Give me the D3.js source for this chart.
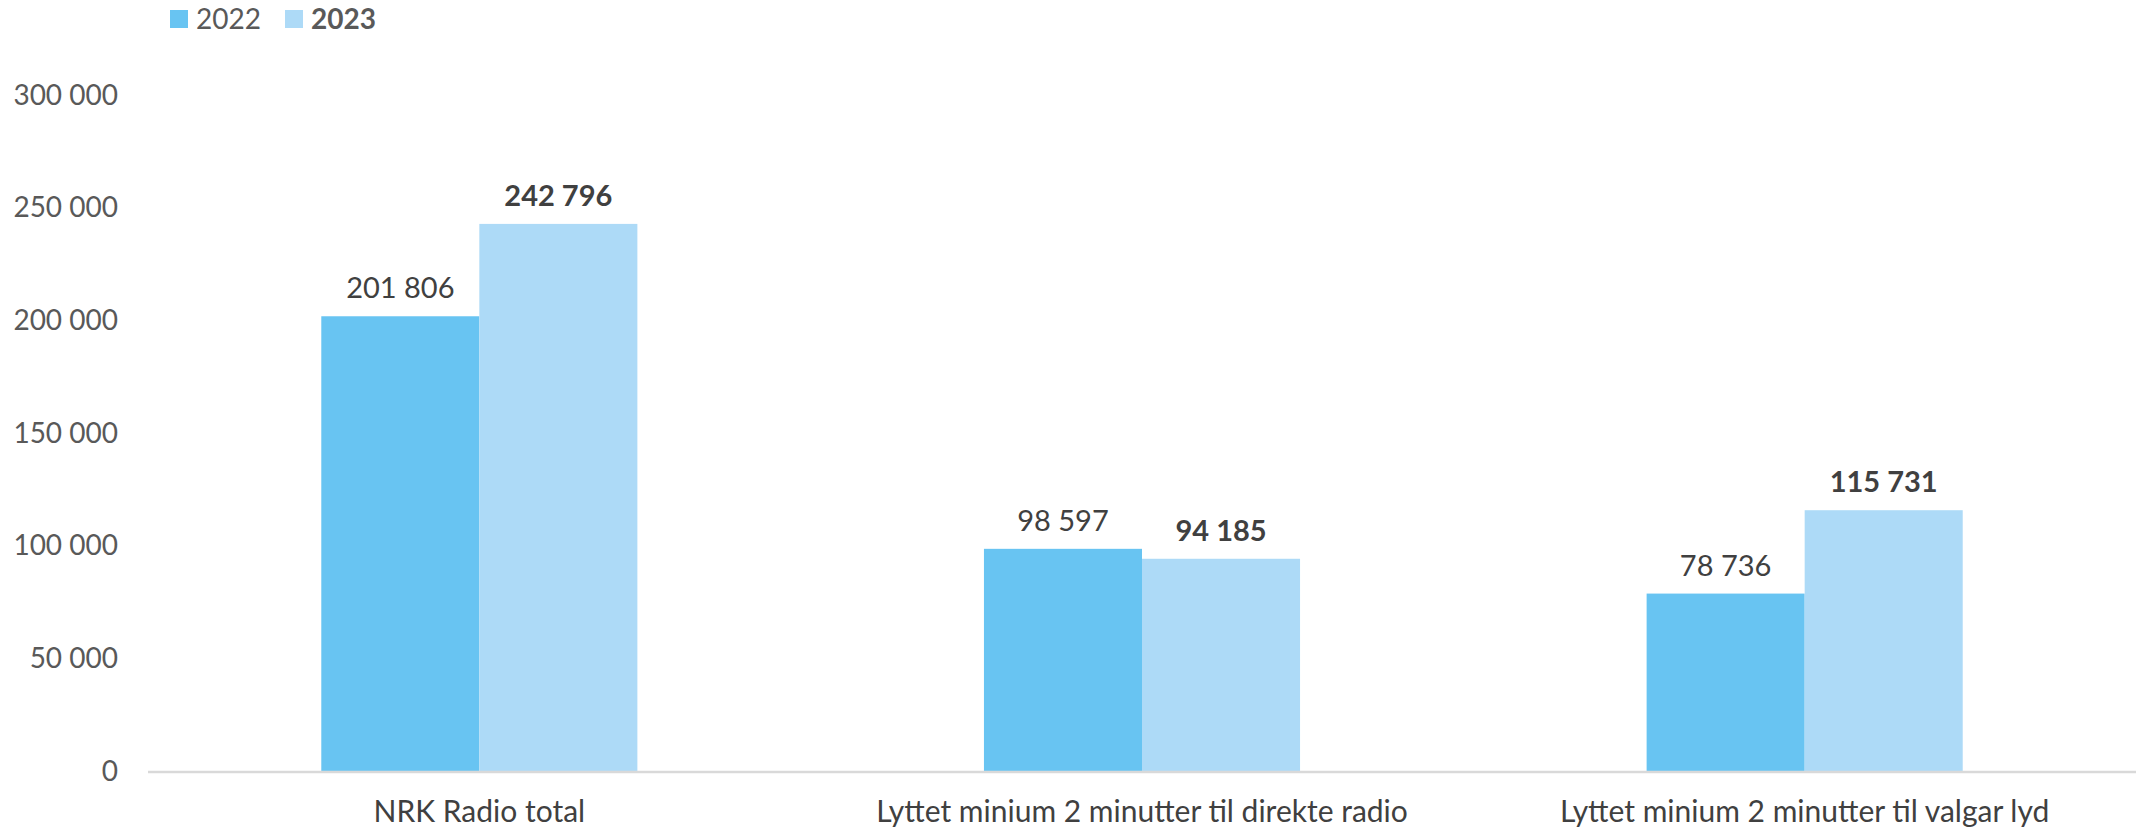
<!DOCTYPE html>
<html><head><meta charset="utf-8">
<script src="https://cdn.jsdelivr.net/npm/d3@7"></script>
<style>html,body{margin:0;padding:0;background:#fff;}svg{display:block;}</style>
</head><body>
<svg id="c" width="2136" height="830"></svg>
<script>
const categories = ["NRK Radio total", "Lyttet minium 2 minutter til direkte radio", "Lyttet minium 2 minutter til valgar lyd"];
const seriesNames = ["2022", "2023"];
const values2022 = [201806, 98597, 78736];
const values2023 = [242796, 94185, 115731];
const yTicks = [0, 50000, 100000, 150000, 200000, 250000, 300000];
const colors = ["#68C4F2", "#ADDAF7"];

(function () {
const svg = d3.select("#c");
const mLeft = 148, mRight = 2136, mTop = 95, mBottom = 771;
const font = "Lato, 'Open Sans', sans-serif";

const y = d3.scaleLinear().domain([0, 300000]).range([mBottom, mTop]);
const x0 = d3.scaleBand().domain(categories).range([mLeft, mRight]).paddingInner(0.523).paddingOuter(0.2615);
const x1 = d3.scaleBand().domain(seriesNames).range([0, x0.bandwidth()]).padding(0);

const fmt = v => d3.format(",")(v).replace(/,/g, " ");

svg.append("g").selectAll("text").data(yTicks).join("text")
  .attr("x", 118).attr("y", d => y(d)).attr("dy", "0.35em")
  .attr("text-anchor", "end").attr("font-family", font).attr("font-size", 28)
  .attr("fill", "#595959").text(d => fmt(d));

const data = categories.map((c, i) => ({cat: c, vals: [{s: "2022", v: values2022[i]}, {s: "2023", v: values2023[i]}]}));

const g = svg.append("g").selectAll("g").data(data).join("g")
  .attr("transform", d => `translate(${x0(d.cat)},0)`);
g.selectAll("rect").data(d => d.vals).join("rect")
  .attr("x", d => x1(d.s)).attr("width", x1.bandwidth())
  .attr("y", d => y(d.v)).attr("height", d => mBottom - y(d.v))
  .attr("fill", (d, i) => colors[i]);
g.selectAll("text").data(d => d.vals).join("text")
  .attr("x", d => x1(d.s) + x1.bandwidth() / 2).attr("y", d => y(d.v) - 18)
  .attr("text-anchor", "middle").attr("font-family", font).attr("font-size", 29)
  .attr("font-weight", (d, i) => i === 1 ? "bold" : "normal")
  .attr("fill", "#404040").text(d => fmt(d.v));

svg.append("line").attr("x1", mLeft).attr("x2", mRight).attr("y1", mBottom + 1).attr("y2", mBottom + 1)
  .attr("stroke", "#D9D9D9").attr("stroke-width", 2.5);

svg.append("g").selectAll("text").data(categories).join("text")
  .attr("x", d => x0(d) + x0.bandwidth() / 2).attr("y", 811).attr("dy", "0.35em")
  .attr("text-anchor", "middle").attr("font-family", font).attr("font-size", 30)
  .attr("fill", "#404040").text(d => d);

const legX = [170, 285];
const leg = svg.append("g").selectAll("g").data(seriesNames).join("g")
  .attr("transform", (d, i) => `translate(${legX[i]},0)`);
leg.append("rect").attr("x", 0).attr("y", 10).attr("width", 18).attr("height", 18)
  .attr("fill", (d, i) => colors[i]);
leg.append("text").attr("x", 26).attr("y", 19).attr("dy", "0.35em")
  .attr("font-family", font).attr("font-size", 28)
  .attr("font-weight", (d, i) => i === 1 ? "bold" : "normal")
  .attr("fill", "#595959").text(d => d);
})();
</script>
</body></html>
